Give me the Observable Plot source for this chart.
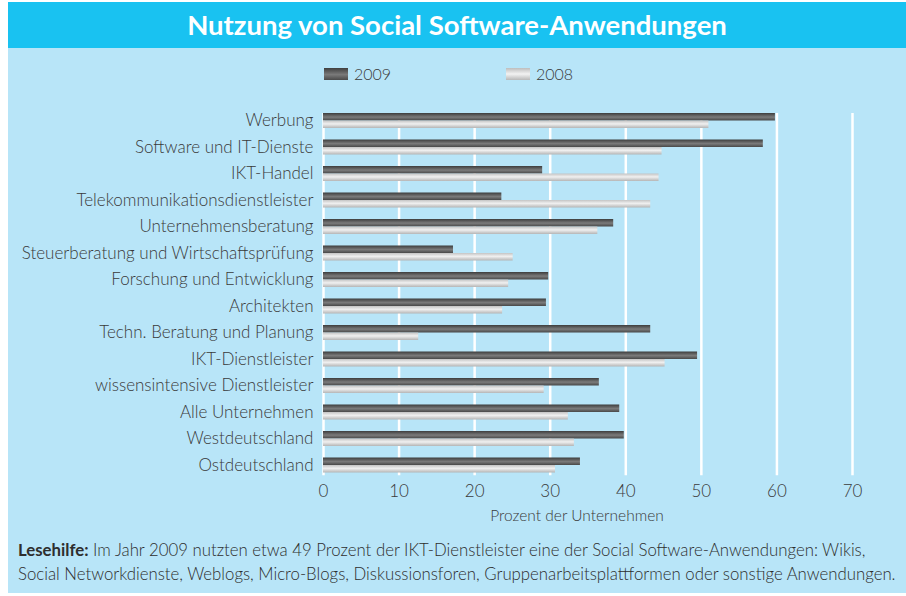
<!DOCTYPE html>
<html>
<head>
<meta charset="utf-8">
<script src="https://cdn.jsdelivr.net/npm/d3@7"></script>
<script src="https://cdn.jsdelivr.net/npm/@observablehq/plot@0.6"></script>
<style>
  html, body { margin: 0; padding: 0; background: #ffffff; }
  body { width: 906px; height: 596px; position: relative; overflow: hidden; font-family: Lato, "Open Sans", sans-serif; color: #3a3a3a; }
  #panel { position: absolute; left: 8px; top: 2px; width: 898px; height: 591px; background: #b8e5f8; }
  #title { position: absolute; left: 8px; top: 2px; width: 898px; height: 46px; background: #19c2f1; color: #fff; font-weight: bold; font-size: 27.5px; text-align: center; line-height: 46px; }
  .legend { position: absolute; top: 64px; font-size: 16px; font-weight: 300; display: flex; align-items: center; }
  .sw { width: 24px; height: 12px; margin-right: 6px; }
  #chart { position: absolute; left: 0; top: 100px; }
  #caption { position: absolute; left: 18px; top: 538px; font-size: 16.8px; font-weight: 300; line-height: 24px; color: #2e2e2e; white-space: nowrap; }
  #caption b { font-weight: bold; }
</style>
</head>
<body>
<div id="panel"></div>
<div id="title">Nutzung von Social Software-Anwendungen</div>
<div class="legend" style="left:324px"><div class="sw" style="background:linear-gradient(#3f3f3f,#7a7a7a 55%,#4a4a4a)"></div>2009</div>
<div class="legend" style="left:506px"><div class="sw" style="background:linear-gradient(#bdbdbd,#f2f2f2 50%,#b8b8b8)"></div>2008</div>
<div id="chart"></div>
<div id="caption"><b>Lesehilfe:</b> Im Jahr 2009 nutzten etwa 49 Prozent der IKT-Dienstleister eine der Social Software-Anwendungen: Wikis,<br>Social Networkdienste, Weblogs, Micro-Blogs, Diskussionsforen, Gruppenarbeitsplattformen oder sonstige Anwendungen.</div>
<script>
const categories = [
  "Werbung",
  "Software und IT-Dienste",
  "IKT-Handel",
  "Telekommunikationsdienstleister",
  "Unternehmensberatung",
  "Steuerberatung und Wirtschaftsprüfung",
  "Forschung und Entwicklung",
  "Architekten",
  "Techn. Beratung und Planung",
  "IKT-Dienstleister",
  "wissensintensive Dienstleister",
  "Alle Unternehmen",
  "Westdeutschland",
  "Ostdeutschland"
];
const values2009 = [59.8, 58.2, 29.0, 23.6, 38.4, 17.2, 29.8, 29.5, 43.3, 49.5, 36.5, 39.2, 39.8, 34.0];
const values2008 = [51.0, 44.8, 44.4, 43.3, 36.3, 25.1, 24.5, 23.7, 12.6, 45.2, 29.2, 32.4, 33.2, 30.7];
const xTicks = [0, 10, 20, 30, 40, 50, 60, 70];
const xLabel = "Prozent der Unternehmen";

const data2009 = categories.map((c, i) => ({category: c, value: values2009[i]}));
const data2008 = categories.map((c, i) => ({category: c, value: values2008[i]}));

const defs = () => {
  const d = d3.create("svg:defs");
  const g1 = d.append("linearGradient").attr("id", "g2009").attr("x1", 0).attr("y1", 0).attr("x2", 0).attr("y2", 1);
  g1.append("stop").attr("offset", "0%").attr("stop-color", "#3d3d3d");
  g1.append("stop").attr("offset", "55%").attr("stop-color", "#7b7b7b");
  g1.append("stop").attr("offset", "100%").attr("stop-color", "#484848");
  const g2 = d.append("linearGradient").attr("id", "g2008").attr("x1", 0).attr("y1", 0).attr("x2", 0).attr("y2", 1);
  g2.append("stop").attr("offset", "0%").attr("stop-color", "#c4c4c4");
  g2.append("stop").attr("offset", "45%").attr("stop-color", "#f0f0f0");
  g2.append("stop").attr("offset", "100%").attr("stop-color", "#b5b5b5");
  return d.node();
};

const chart = Plot.plot({
  width: 906,
  height: 430,
  marginLeft: 323,
  marginRight: 54,
  marginTop: 7.25,
  marginBottom: 51.75,
  style: {background: "transparent", fontFamily: "Lato, 'Open Sans', sans-serif", color: "#3a3a3a", overflow: "visible"},
  x: {domain: [0, 70], ticks: xTicks},
  y: {domain: categories, padding: 0, round: false},
  marks: [
    defs,
    Plot.ruleX(xTicks, {stroke: "white", strokeWidth: 2.5, insetTop: 5.75, insetBottom: 3}),
    Plot.barX(data2009, {x: "value", y: "category", fill: "url(#g2009)", insetTop: 5.75, insetBottom: 13.25}),
    Plot.barX(data2008, {x: "value", y: "category", fill: "url(#g2008)", insetTop: 13.25, insetBottom: 5.75}),
    Plot.axisY({tickSize: 0, tickPadding: 10, fontSize: 17, fontWeight: 300, label: null}),
    Plot.axisX({ticks: xTicks, tickSize: 0, tickPadding: 6, fontSize: 17, fontWeight: 300, label: null}),
    Plot.text([xLabel], {frameAnchor: "bottom", dy: 42, dx: -11, fontSize: 15.5, fontWeight: 300, fill: "#3a3a3a"})
  ]
});
document.getElementById("chart").appendChild(chart);
</script>
</body>
</html>
